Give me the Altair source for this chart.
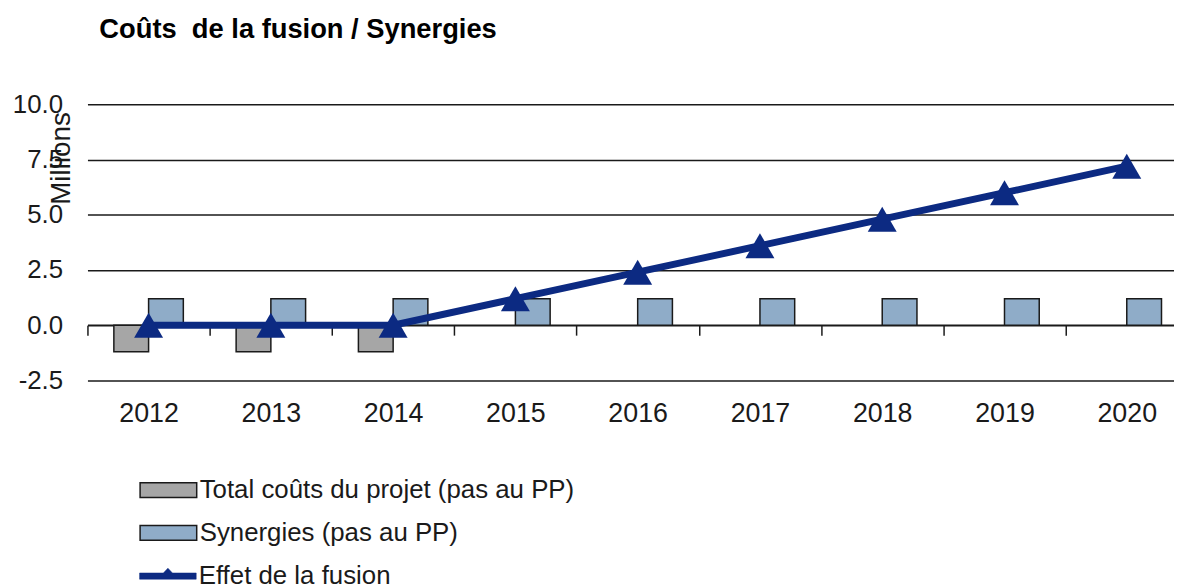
import altair as alt
import pandas as pd

years = ["2012", "2013", "2014", "2015", "2016", "2017", "2018", "2019", "2020"]
couts = [-1.2, -1.2, -1.2, 0, 0, 0, 0, 0, 0]
synergies = [1.2, 1.2, 1.2, 1.2, 1.2, 1.2, 1.2, 1.2, 1.2]
effet = [0, 0, 0, 1.2, 2.4, 3.6, 4.8, 6.0, 7.2]
y_ticks = [-2.5, 0, 2.5, 5.0, 7.5, 10.0]

title_text = "Coûts \u00a0de la fusion / Synergies"
label_couts = "Total coûts du projet (pas au PP)"
label_syn = "Synergies (pas au PP)"
label_effet = "Effet de la fusion"

FONT = "Liberation Sans"
NAVY = "#0c2a82"
GREY = "#a6a6a6"
BLUE = "#8facc8"
INK = "#1a1a1a"

bars_df = pd.DataFrame({
    "annee": years * 2,
    "serie": [label_couts] * len(years) + [label_syn] * len(years),
    "valeur": couts + synergies,
})
line_df = pd.DataFrame({"annee": years, "serie": label_effet, "valeur": effet})

W, H = 1108, 278
zero_offset = -H * 2.5 / 12.5

x_scale = alt.Scale(domain=years, paddingInner=0, paddingOuter=0)
y_scale = alt.Scale(domain=[-2.5, 10], nice=False)

x_axis = alt.Axis(
    title=None, labelAngle=0, grid=False,
    domain=True, domainColor=INK, domainWidth=1.5,
    ticks=True, tickColor=INK, tickWidth=1.5, tickSize=10, tickBand="extent",
    offset=zero_offset, labelPadding=66, labelFontSize=27, labelFont=FONT, labelColor=INK,
)
y_axis = alt.Axis(
    values=y_ticks, grid=True, gridColor=INK, gridWidth=1.5,
    labelExpr="datum.value < 0 ? '-' + format(-datum.value, '.1f') : format(datum.value, '.1f')",
    domain=False, ticks=False, labelPadding=25, labelFontSize=26, labelFont=FONT, labelColor=INK,
    title="Millions", titleX=-26, titleY=54, titleAngle=270, titleAlign="center",
    titleBaseline="middle", titleFontSize=28, titleFont=FONT, titleFontWeight="normal", titleColor=INK,
)

rect_path = "M-1,-0.26L1,-0.26L1,0.26L-1,0.26Z"
line_path = "M-1,-0.11L-0.16,-0.11L0,-0.28L0.16,-0.11L1,-0.11L1,0.11L-1,0.11Z"

bars = alt.Chart(bars_df).transform_filter("datum.valeur != 0").mark_bar(
    stroke=INK, strokeWidth=1.5
).encode(
    x=alt.X("annee:N", scale=x_scale, axis=x_axis, sort=years),
    xOffset=alt.XOffset("serie:N", scale=alt.Scale(domain=[label_couts, label_syn], paddingInner=0, paddingOuter=0.76)),
    y=alt.Y("valeur:Q", scale=y_scale, axis=y_axis),
    y2=alt.datum(0),
    fill=alt.Fill("serie:N", scale=alt.Scale(domain=[label_couts, label_syn], range=[GREY, BLUE]),
                  legend=alt.Legend(
                      title=None, orient="none", legendX=52, legendY=359, direction="vertical",
                      symbolType=rect_path, symbolSize=3249, symbolStrokeColor=INK, symbolStrokeWidth=1.5,
                      labelFontSize=26, labelFont=FONT, labelColor=INK, labelOffset=2, labelLimit=0,
                      rowPadding=-12,
                  )),
)

line = alt.Chart(line_df).mark_line(strokeWidth=7).encode(
    x=alt.X("annee:N", scale=x_scale, sort=years),
    y=alt.Y("valeur:Q", scale=y_scale),
    stroke=alt.Stroke("serie:N", scale=alt.Scale(domain=[label_effet], range=[NAVY]),
                      legend=alt.Legend(
                          title=None, orient="none", legendX=52, legendY=446, direction="vertical",
                          symbolType=line_path, symbolSize=3249, symbolFillColor=NAVY,
                          symbolStrokeColor=NAVY, symbolStrokeWidth=0.5,
                          labelFontSize=26, labelFont=FONT, labelColor=INK, labelOffset=2, labelLimit=0,
                      )),
)

points = alt.Chart(line_df).mark_point(shape="triangle-up", filled=True, size=850, opacity=1, color=NAVY).encode(
    x=alt.X("annee:N", scale=x_scale, sort=years),
    y=alt.Y("valeur:Q", scale=y_scale),
)

chart = alt.layer(bars, line, points).properties(
    width=W, height=H,
    title=alt.TitleParams(
        title_text, anchor="start", frame="group", dx=12, offset=26,
        fontSize=27.5, fontWeight="bold", font=FONT, color="#000", baseline="alphabetic",
    ),
    autosize=alt.AutoSizeParams(type="none"),
    padding={"left": 80, "top": 95, "right": -14, "bottom": 207},
).configure_view(stroke=None)

chart.save("out.html", embed_options={"renderer": "svg", "actions": False})
